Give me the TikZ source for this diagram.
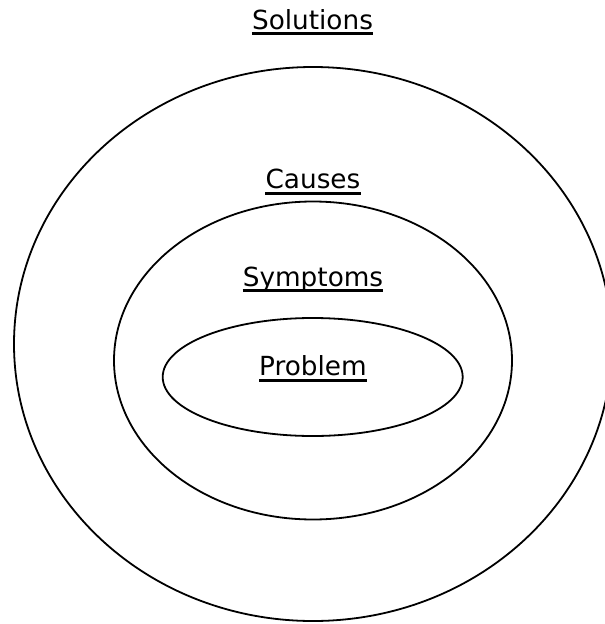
\documentclass[tikz,border=0pt]{standalone}
\usepackage{fontspec}
\setmainfont{DejaVu Sans}
\usetikzlibrary{shapes.geometric}
\begin{document}
\begin{tikzpicture}[x=1pt,y=-1pt,
  ring/.style={draw=black, line width=1.8pt, ellipse, inner sep=0pt, minimum width=#1},
  lbl/.style={inner sep=0pt, anchor=base, font=\fontsize{26.3}{30}\selectfont},
  uline/.style={line width=2.8pt, line cap=butt}]
\useasboundingbox (0,0) rectangle (605,624);
\clip (0,0) rectangle (605,624);
\node[ring=598pt, minimum height=554pt] (outer) at (313,344) {};
\node[ring=398pt, minimum height=318pt] (middle) at (313,360.5) {};
\node[ring=300pt, minimum height=118pt] (inner) at (312.7,377) {};
\node[lbl] (sol) at (312.5,29.3) {Solutions};
\node[lbl] (cau) at (313,188.6) {Causes};
\node[lbl] (sym) at (313,286) {Symptoms};
\node[lbl] (pro) at (313,375.6) {Problem};
\foreach \n in {sol,cau,sym,pro}{
  \draw[uline] ([yshift=-4.5pt]\n.base west) -- ([yshift=-4.5pt]\n.base east);
}
\end{tikzpicture}
\end{document}
